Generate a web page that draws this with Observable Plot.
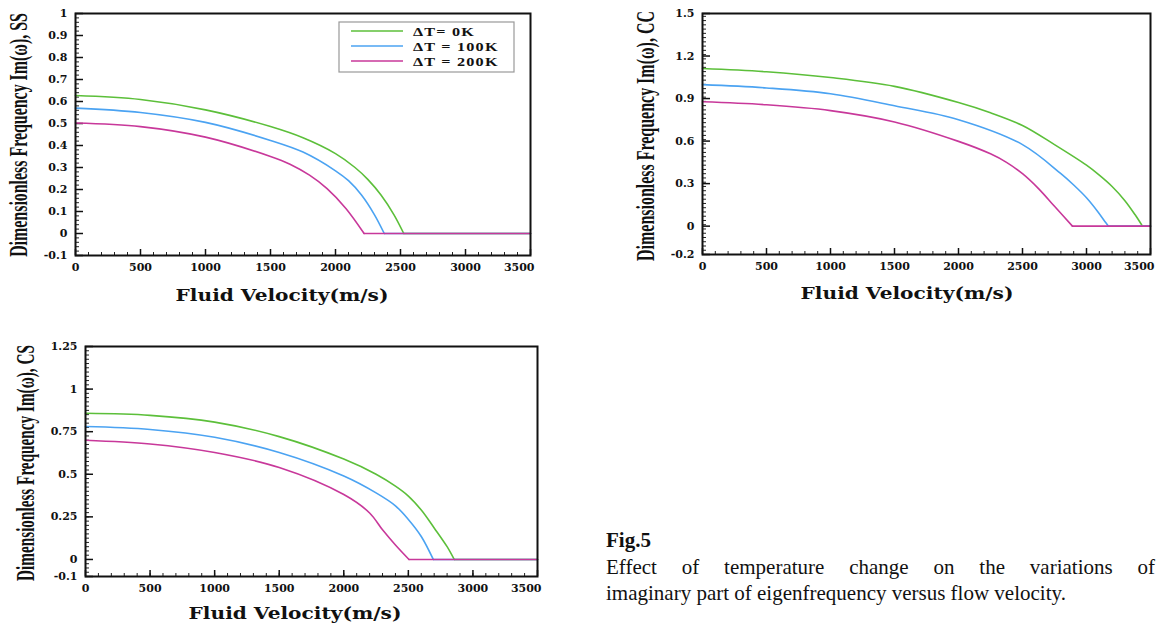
<!DOCTYPE html>
<html><head><meta charset="utf-8">
<script src="https://cdn.jsdelivr.net/npm/d3@7"></script>
<script src="https://cdn.jsdelivr.net/npm/@observablehq/plot@0.6"></script>
<style>
body{margin:0;background:#fff;}
#wrap{position:relative;width:1159px;height:625px;overflow:hidden;background:#fff;}
.chart{position:absolute;}
#fig{position:absolute;left:606px;top:527px;font-family:"Liberation Serif",serif;font-weight:bold;font-size:21px;line-height:26px;color:#111;}
#cap1{position:absolute;left:606px;top:554px;width:549px;font-family:"Liberation Serif",serif;font-size:21px;line-height:26px;color:#111;text-align:justify;text-align-last:justify;}
#cap2{position:absolute;left:606px;top:580px;font-family:"Liberation Serif",serif;font-size:21px;line-height:26px;color:#111;white-space:nowrap;}
</style></head><body>
<div id="wrap">
<div class="chart" id="ss" style="left:0;top:0"></div>
<div class="chart" id="cc" style="left:600px;top:0"></div>
<div class="chart" id="cs" style="left:0;top:330px"></div>
<div id="fig">Fig.5</div>
<div id="cap1">Effect of temperature change on the variations of</div>
<div id="cap2">imaginary part of eigenfrequency versus flow velocity.</div>
</div>
<script>
// ---------- data ----------
const series = ["ΔT= 0K", "ΔT = 100K", "ΔT = 200K"];
const colors = ["#5cbf3a", "#4ba3f2", "#c8389a"];
const xTicks = [0, 500, 1000, 1500, 2000, 2500, 3000, 3500];
const ssYTicks = [-0.1, 0, 0.1, 0.2, 0.3, 0.4, 0.5, 0.6, 0.7, 0.8, 0.9, 1];
const ccYTicks = [-0.2, 0, 0.3, 0.6, 0.9, 1.2, 1.5];
const csYTicks = [-0.1, 0, 0.25, 0.5, 0.75, 1, 1.25];

// SS
const ssX0 = [0, 500, 1000, 1500, 1750, 2000, 2150, 2250, 2350, 2450, 2525, 3500];
const ssY0 = [0.627, 0.609, 0.562, 0.486, 0.435, 0.363, 0.30, 0.245, 0.175, 0.085, 0, 0];
const ssX1 = [0, 500, 1000, 1500, 1750, 2000, 2100, 2200, 2300, 2375, 3500];
const ssY1 = [0.57, 0.55, 0.505, 0.423, 0.37, 0.285, 0.24, 0.175, 0.085, 0, 0];
const ssX2 = [0, 500, 1000, 1500, 1650, 1800, 1935, 2080, 2220, 3500];
const ssY2 = [0.502, 0.486, 0.438, 0.35, 0.315, 0.265, 0.204, 0.114, 0, 0];
// CC
const ccX0 = [0, 500, 1000, 1500, 2000, 2250, 2500, 2750, 3000, 3100, 3200, 3300, 3380, 3437, 3500];
const ccY0 = [1.112, 1.089, 1.048, 0.986, 0.872, 0.80, 0.71, 0.575, 0.43, 0.36, 0.28, 0.18, 0.08, 0, 0];
const ccX1 = [0, 500, 1000, 1500, 2000, 2500, 2800, 2900, 3000, 3090, 3150, 3172, 3500];
const ccY1 = [0.998, 0.975, 0.934, 0.849, 0.751, 0.575, 0.37, 0.29, 0.2, 0.1, 0.025, 0, 0];
const ccX2 = [0, 500, 1000, 1500, 2000, 2250, 2375, 2500, 2625, 2750, 2890, 3500];
const ccY2 = [0.877, 0.856, 0.815, 0.735, 0.598, 0.51, 0.45, 0.37, 0.265, 0.14, 0, 0];
// CS
const csX0 = [0, 500, 1000, 1500, 2000, 2250, 2400, 2500, 2600, 2700, 2800, 2855, 3500];
const csY0 = [0.858, 0.846, 0.806, 0.721, 0.589, 0.50, 0.43, 0.372, 0.29, 0.185, 0.075, 0, 0];
const csX1 = [0, 500, 1000, 1500, 2000, 2250, 2400, 2500, 2600, 2693, 3500];
const csY1 = [0.78, 0.763, 0.717, 0.628, 0.49, 0.391, 0.315, 0.235, 0.135, 0, 0];
const csX2 = [0, 500, 1000, 1500, 2000, 2200, 2300, 2400, 2505, 3500];
const csY2 = [0.70, 0.678, 0.628, 0.54, 0.381, 0.273, 0.174, 0.085, 0, 0];

// ---------- drawing ----------
const xMinor = d3.range(0, 3501, 100);
const measureCtx = document.createElement("canvas").getContext("2d");
function textWidth(txt, font) { measureCtx.font = font; return measureCtx.measureText(txt).width; }

function chart(cfg) {
  const pw = cfg.width - cfg.ml - cfg.mr, ph = cfg.height - cfg.mt - cfg.mb;
  const curved = [], flat = [];
  cfg.lines.forEach(([xs, ys], i) => {
    const n = xs.length;
    for (let j = 0; j < n - 1; j++) curved.push({x: xs[j], y: ys[j], s: series[i]});
    flat.push({x: xs[n - 2], y: ys[n - 2], s: series[i]}, {x: xs[n - 1], y: ys[n - 1], s: series[i]});
  });
  const svg = Plot.plot({
    width: cfg.width, height: cfg.height,
    marginLeft: cfg.ml, marginRight: cfg.mr, marginTop: cfg.mt, marginBottom: cfg.mb,
    style: {background: "transparent", fontFamily: "'DejaVu Serif', serif", fontWeight: "bold", fontSize: "11px", color: "#111", overflow: "visible"},
    x: {domain: [0, 3500], label: null},
    y: {domain: cfg.yDomain, label: null},
    color: {domain: series, range: colors},
    marks: [
      Plot.tickX(xMinor, {x: d => d, insetTop: ph - 3, stroke: "#222"}),
      Plot.tickX(xTicks, {x: d => d, insetTop: ph - 6, stroke: "#111", strokeWidth: 1.5}),
      Plot.tickY(cfg.yMinor, {y: d => d, insetRight: pw - 4, stroke: "#222"}),
      Plot.tickY(cfg.yTicks, {y: d => d, insetRight: pw - 8, stroke: "#111", strokeWidth: 1.5}),
      Plot.line(curved, {x: "x", y: "y", z: "s", stroke: "s", curve: "catmull-rom", strokeWidth: 1.6}),
      Plot.line(flat, {x: "x", y: "y", z: "s", stroke: "s", strokeWidth: 1.6}),
      Plot.frame({stroke: "#111", strokeWidth: 2}),
      Plot.axisX(xTicks, {tickSize: 0, tickPadding: 8, tickFormat: d => String(d), label: null}),
      Plot.axisY(cfg.yTicks, {tickSize: 0, tickPadding: 8, tickFormat: d => String(d), label: null})
    ]
  });
  const s = d3.select(svg);
  const xl = s.selectAll('g[aria-label="x-axis tick label"] text').nodes();
  if (xl.length) { d3.select(xl[xl.length - 1]).attr("text-anchor", "end").attr("dx", 4); }
  // y title: condensed bold serif
  const yFont = "bold 25px 'Liberation Serif'";
  const sx = cfg.yTitleLen / textWidth(cfg.yTitle, yFont);
  s.append("text")
    .attr("transform", `translate(${cfg.yTitleX},${cfg.yTitleY}) rotate(-90) scale(${sx},1)`)
    .attr("text-anchor", "middle").attr("dominant-baseline", "central")
    .style("font-family", "'Liberation Serif', serif").style("font-weight", "bold").style("font-size", "25px")
    .attr("fill", "#111").text(cfg.yTitle);
  // x title: wide bold serif
  const xTitle = "Fluid Velocity(m/s)";
  const xFont = "bold 17px 'DejaVu Serif'";
  const xs = 213 / textWidth(xTitle, xFont);
  s.append("text")
    .attr("transform", `translate(${cfg.xTitleX},${cfg.xTitleY}) scale(${xs},1)`)
    .attr("text-anchor", "middle").attr("dominant-baseline", "central")
    .style("font-family", "'DejaVu Serif', serif").style("font-weight", "bold").style("font-size", "17px")
    .attr("fill", "#111").text(xTitle);
  if (cfg.legend) {
    const g = s.append("g");
    g.append("rect").attr("x", 339).attr("y", 22).attr("width", 175).attr("height", 50)
      .attr("fill", "#fff").attr("stroke", "#999").attr("stroke-width", 1.2);
    series.forEach((name, i) => {
      const yy = 31 + i * 15;
      g.append("line").attr("x1", 351).attr("x2", 403).attr("y1", yy).attr("y2", yy)
        .attr("stroke", colors[i]).attr("stroke-width", 1.6);
      g.append("text").attr("transform", `translate(413,${yy}) scale(1.2,1)`)
        .attr("dominant-baseline", "central").attr("text-anchor", "start")
        .style("font-family", "'Liberation Serif', serif").style("font-weight", "bold").style("font-size", "13.5px")
        .style("letter-spacing", "1px").attr("fill", "#111").text(name);
    });
  }
  return svg;
}

document.getElementById("ss").appendChild(chart({
  width: 560, height: 310, ml: 75, mr: 30, mt: 13, mb: 55,
  yDomain: [-0.1, 1], yTicks: ssYTicks, yMinor: d3.range(-0.1, 1.0001, 0.02),
  lines: [[ssX0, ssY0], [ssX1, ssY1], [ssX2, ssY2]],
  yTitle: "Dimensionless Frequency Im(ω), SS", yTitleX: 19, yTitleY: 135, yTitleLen: 244,
  xTitleX: 282, xTitleY: 295, legend: true
}));
document.getElementById("cc").appendChild(chart({
  width: 559, height: 310, ml: 102, mr: 9, mt: 13, mb: 56,
  yDomain: [-0.2, 1.5], yTicks: ccYTicks, yMinor: d3.range(-0.2, 1.5001, 0.03),
  lines: [[ccX0, ccY0], [ccX1, ccY1], [ccX2, ccY2]],
  yTitle: "Dimensionless Frequency Im(ω), CC", yTitleX: 46, yTitleY: 136, yTitleLen: 250,
  xTitleX: 307, xTitleY: 293, legend: false
}));
document.getElementById("cs").appendChild(chart({
  width: 560, height: 295, ml: 85, mr: 23, mt: 16, mb: 49,
  yDomain: [-0.1, 1.25], yTicks: csYTicks, yMinor: d3.range(-0.1, 1.2501, 0.025),
  lines: [[csX0, csY0], [csX1, csY1], [csX2, csY2]],
  yTitle: "Dimensionless Frequency Im(ω), CS", yTitleX: 26, yTitleY: 133, yTitleLen: 236,
  xTitleX: 295, xTitleY: 283, legend: false
}));
</script>
</body></html>
